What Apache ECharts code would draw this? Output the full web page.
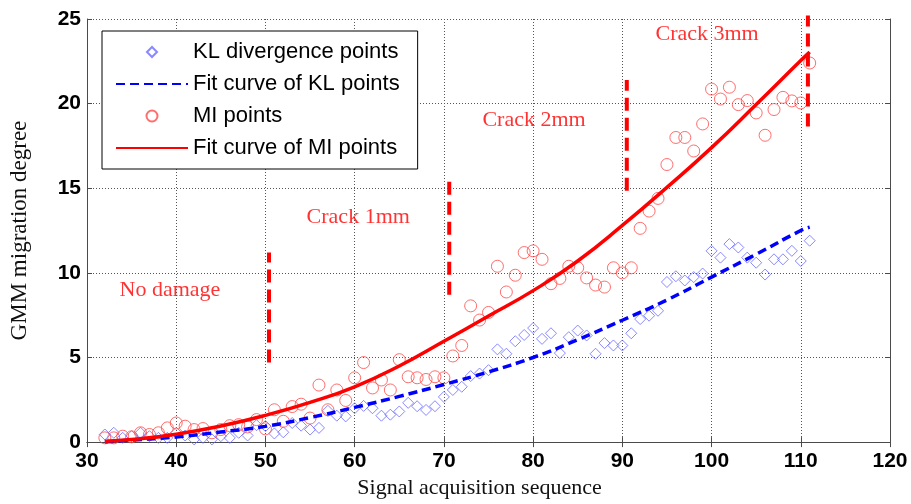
<!DOCTYPE html>
<html>
<head>
<meta charset="utf-8">
<script src="https://cdn.jsdelivr.net/npm/echarts@6/dist/echarts.min.js"></script>
<style>
  html, body { margin: 0; padding: 0; background: #ffffff; }
  #chart { width: 911px; height: 504px; }
</style>
</head>
<body>
<div id="chart"></div>
<script>
// Signal acquisition sequence numbers
const seqX = [32,33,34,35,36,37,38,39,40,41,42,43,44,45,46,47,48,49,50,51,
  52,53,54,55,56,57,58,59,60,61,62,63,64,65,66,67,68,69,70,71,
  72,73,74,75,76,77,78,79,80,81,82,83,84,85,86,87,88,89,90,91,
  92,93,94,95,96,97,98,99,100,101,102,103,104,105,106,107,108,109,110,111];

// GMM migration degree measured with KL divergence
const klPoints = [0.45,0.55,0.25,0.35,0.55,0.35,0.25,0.25,0.55,0.39,0.16,0.25,0.16,0.35,0.25,0.55,0.39,1.0,0.95,0.51,
  0.58,1.13,0.97,0.74,0.84,1.85,1.56,1.52,2.0,2.14,2.0,1.56,1.62,1.81,2.32,2.12,1.9,2.12,2.67,3.08,
  3.27,3.9,4.05,4.25,5.48,5.22,5.96,6.33,6.74,6.1,6.43,5.26,6.2,6.59,6.3,5.22,5.85,5.71,5.71,6.43,
  7.27,7.47,7.76,9.46,9.8,9.55,9.75,9.96,11.3,10.9,11.7,11.5,10.9,10.6,9.9,10.8,10.8,11.3,10.7,11.9];

// GMM migration degree measured with mutual information
const miPoints = [0.25,0.25,0.35,0.31,0.55,0.45,0.55,0.84,1.13,0.94,0.74,0.8,0.55,0.74,0.97,1.03,0.9,1.33,0.78,1.91,
  1.23,2.1,2.24,1.42,3.37,1.91,3.08,2.46,3.8,4.7,3.2,3.67,3.08,4.87,3.86,3.8,3.7,3.86,3.8,5.09,
  5.71,8.05,7.21,7.66,10.39,8.87,9.86,11.2,11.3,10.8,9.36,9.67,10.39,10.3,9.7,9.28,9.16,10.3,10.0,10.3,
  12.63,13.65,14.4,16.4,18.0,18.0,17.2,18.8,20.86,20.27,20.97,19.94,20.18,19.45,18.13,19.65,20.37,20.16,20.04,22.4];

// Fitted trend curves
const fitX  = [32,35,40,45,50,55,60,65,70,75,80,85,90,95,100,105,110,111];
const klFit = [0.0,0.12,0.3,0.6,0.93,1.45,2.05,2.7,3.4,4.15,5.0,6.05,7.2,8.4,9.75,11.1,12.5,12.7];
const miFit = [0.05,0.15,0.47,0.95,1.58,2.35,3.27,4.5,5.96,7.45,8.95,10.7,12.8,15.05,17.4,19.95,22.55,23.05];

// Damage-stage boundaries and stage names
const stageBoundX    = [50.4, 70.6, 90.5, 110.8];
const stageBoundLow  = [4.7, 8.7, 14.85, 18.65];
const stageBoundHigh = [11.2, 15.4, 21.4, 25.2];
const stageNames = ['No damage', 'Crack 1mm', 'Crack 2mm', 'Crack 3mm'];
const stageNameX = [39.3, 60.4, 80.1, 99.5];
const stageNameY = [8.95, 13.3, 19.0, 24.1];

// Axis ticks
const xTicks = [30, 40, 50, 60, 70, 80, 90, 100, 110, 120];
const yTicks = [0, 5, 10, 15, 20, 25];

const serif = '"Liberation Serif", "Times New Roman", serif';
const sans = '"Liberation Sans", Arial, sans-serif';

const pair = (xs, ys) => xs.map((x, i) => [x, ys[i]]);

// Legend glyph: a small diamond centred in a box as wide as the legend line icons
const diamondIcon = 'path://M0,5L0,5.001M31,5L36,0L41,5L36,10ZM72,5L72,5.001';

const boundarySeries = stageBoundX.map((x, i) => ({
  type: 'line',
  name: 'boundary' + i,
  data: [[x, stageBoundLow[i]], [x, stageBoundHigh[i]]],
  symbol: 'none',
  clip: false,
  silent: true,
  z: 4,
  lineStyle: { color: '#ff0000', width: 4, type: [13, 7] }
}));

const frameColor = '#4a4a4a';
const gridLine = { show: true, lineStyle: { color: '#555555', type: [1, 2], width: 1 } };
const innerTick = { show: true, inside: true, length: 5, lineStyle: { color: frameColor } };
const tickFont = { fontFamily: sans, fontSize: 21, fontWeight: 'bold', color: '#000000' };

const chart = echarts.init(document.getElementById('chart'), null, { renderer: 'canvas' });

chart.setOption({
  animation: false,
  backgroundColor: '#ffffff',
  grid: { left: 87, right: 21, top: 19, bottom: 58, show: false },
  legend: {
    orient: 'vertical',
    left: 102,
    top: 31,
    padding: [10, 18, 10, 13],
    itemWidth: 72,
    itemHeight: 11,
    itemGap: 10,
    backgroundColor: '#ffffff',
    borderColor: '#000000',
    borderWidth: 1,
    borderRadius: 0,
    textStyle: { fontFamily: sans, fontSize: 22, color: '#000000', lineHeight: 22 },
    data: [
      { name: 'KL divergence points', icon: diamondIcon },
      { name: 'Fit curve of KL points', itemStyle: { opacity: 0 } },
      { name: 'MI points', icon: 'circle' },
      { name: 'Fit curve of MI points', itemStyle: { opacity: 0 } }
    ]
  },
  xAxis: [{
    type: 'value',
    min: xTicks[0],
    max: xTicks[xTicks.length - 1],
    interval: 10,
    position: 'bottom',
    name: 'Signal acquisition sequence',
    nameLocation: 'middle',
    nameGap: 34,
    nameTextStyle: { fontFamily: serif, fontSize: 22, color: '#111111', padding: [0, 18, 0, 0] },
    axisLine: { show: true, lineStyle: { color: frameColor, width: 1 } },
    axisTick: innerTick,
    axisLabel: Object.assign({ margin: 9 }, tickFont),
    splitLine: gridLine
  }, {
    type: 'value',
    min: xTicks[0],
    max: xTicks[xTicks.length - 1],
    interval: 10,
    position: 'top',
    axisLine: { show: true, lineStyle: { color: frameColor, width: 1 } },
    axisTick: innerTick,
    axisLabel: { show: false },
    splitLine: { show: false }
  }],
  yAxis: [{
    type: 'value',
    min: yTicks[0],
    max: yTicks[yTicks.length - 1],
    interval: 5,
    position: 'left',
    name: 'GMM migration degree',
    nameLocation: 'middle',
    nameGap: 56,
    nameTextStyle: { fontFamily: serif, fontSize: 23, color: '#111111' },
    axisLine: { show: true, lineStyle: { color: frameColor, width: 1 } },
    axisTick: innerTick,
    axisLabel: Object.assign({ margin: 6 }, tickFont),
    splitLine: gridLine
  }, {
    type: 'value',
    min: yTicks[0],
    max: yTicks[yTicks.length - 1],
    interval: 5,
    position: 'right',
    axisLine: { show: true, lineStyle: { color: frameColor, width: 1 } },
    axisTick: innerTick,
    axisLabel: { show: false },
    splitLine: { show: false }
  }],
  series: [
    {
      type: 'scatter',
      name: 'KL divergence points',
      data: pair(seqX, klPoints),
      symbol: 'diamond',
      symbolSize: 11,
      z: 2,
      itemStyle: { color: 'rgba(0,0,0,0)', borderColor: '#6b6bff', borderWidth: 1 }
    },
    {
      type: 'line',
      name: 'Fit curve of KL points',
      data: pair(fitX, klFit),
      smooth: true,
      symbol: 'none',
      z: 3,
      itemStyle: { color: '#0000ff' },
      lineStyle: { color: '#0000ff', width: 3.5, type: [9, 5] }
    },
    {
      type: 'scatter',
      name: 'MI points',
      data: pair(seqX, miPoints),
      symbol: 'circle',
      symbolSize: 12,
      z: 2,
      itemStyle: { color: 'rgba(0,0,0,0)', borderColor: '#ff4a4a', borderWidth: 1 }
    },
    {
      type: 'line',
      name: 'Fit curve of MI points',
      data: pair(fitX, miFit),
      smooth: true,
      symbol: 'none',
      z: 3,
      itemStyle: { color: '#ff0000' },
      lineStyle: { color: '#ff0000', width: 3.5 }
    },
    ...boundarySeries,
    {
      type: 'scatter',
      name: 'stage labels',
      data: stageNames.map((n, i) => ({ value: [stageNameX[i], stageNameY[i]], name: n })),
      symbolSize: 0,
      silent: true,
      z: 5,
      label: {
        show: true,
        position: 'inside',
        formatter: p => p.name,
        fontFamily: serif,
        fontSize: 22,
        color: '#ff0000'
      }
    }
  ]
});
</script>
</body>
</html>
